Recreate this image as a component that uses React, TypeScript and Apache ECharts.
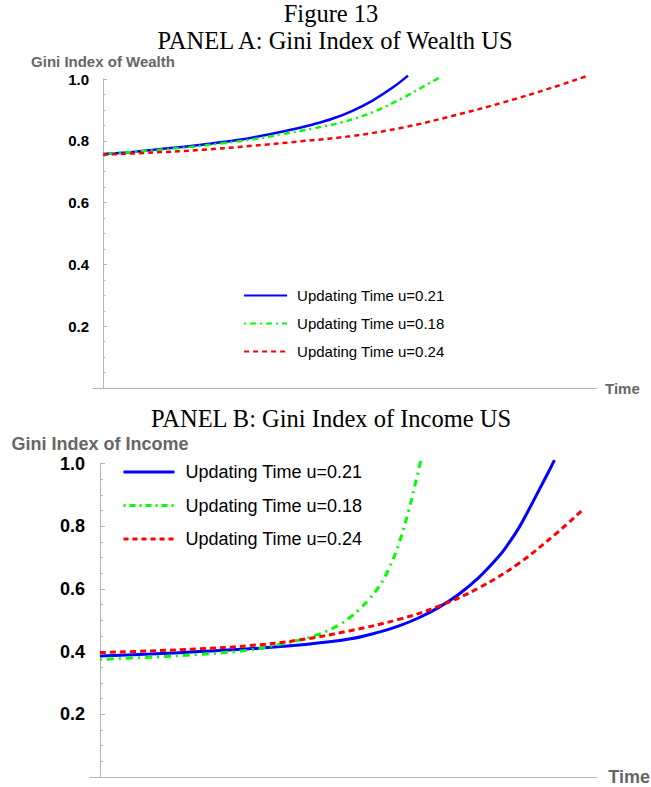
import React, { useEffect, useRef } from 'react';
import * as echarts from 'echarts';

const seriesNames = ['Updating Time u=0.21', 'Updating Time u=0.18', 'Updating Time u=0.24'];

// Panel A: Gini Index of Wealth US
const blueA_t = [0, 3, 6, 9, 12, 15, 18, 21, 23, 25, 27, 29, 30.5];
const blueA_v = [0.757, 0.764, 0.774, 0.784, 0.796, 0.811, 0.830, 0.853, 0.872, 0.898, 0.931, 0.973, 1.011];
const greenA_t = [0, 3, 6, 9, 12, 15, 18, 21, 24, 27, 30, 32, 33.7];
const greenA_v = [0.757, 0.764, 0.772, 0.781, 0.792, 0.805, 0.822, 0.840, 0.861, 0.893, 0.939, 0.975, 1.005];
const redA_t = [0, 5, 10, 15, 20, 25, 30, 35, 40, 45, 48.5];
const redA_v = [0.755, 0.762, 0.771, 0.784, 0.799, 0.816, 0.843, 0.881, 0.924, 0.973, 1.011];

// Panel B: Gini Index of Income US
const blueB_t = [0, 5, 10, 15, 20, 25, 28, 30, 32, 34, 36, 38, 40, 41, 42, 43, 44, 45, 45.6];
const blueB_v = [0.386, 0.392, 0.400, 0.409, 0.421, 0.440, 0.462, 0.482, 0.508, 0.541, 0.583, 0.636, 0.703, 0.745, 0.793, 0.851, 0.912, 0.973, 1.011];
const greenB_t = [0, 5, 10, 15, 18, 20, 22, 24, 25, 26, 27, 28, 29, 30, 31, 31.6, 32.2];
const greenB_v = [0.375, 0.382, 0.391, 0.405, 0.423, 0.437, 0.456, 0.485, 0.507, 0.534, 0.567, 0.608, 0.665, 0.745, 0.853, 0.930, 1.011];
const redB_t = [0, 5, 10, 15, 20, 25, 30, 34, 38, 42, 46, 48.6];
const redB_v = [0.397, 0.402, 0.409, 0.419, 0.437, 0.466, 0.503, 0.545, 0.603, 0.681, 0.783, 0.857];

const yTickStep = 0.2;

const SANS = '"Liberation Sans", Arial, sans-serif';
const SERIF = '"Liberation Serif", "Times New Roman", serif';
const AXIS_GRAY = '#b4b4b4';
const NAME_GRAY = '#666666';

const pairs = (t: number[], v: number[]) => t.map((x, i) => [x, v[i]]);

function yAxisFor(grid: number, name: string, fs: number, gap: number, margin: number, tickLen: number) {
  return {
    gridIndex: grid,
    type: 'value',
    min: 0,
    max: 1,
    interval: yTickStep,
    name,
    nameLocation: 'end',
    nameGap: gap,
    nameTextStyle: { color: NAME_GRAY, fontWeight: 'bold', fontSize: fs, fontFamily: SANS, align: 'center' },
    axisLine: { show: true, onZero: true, lineStyle: { color: AXIS_GRAY, width: 1 } },
    axisTick: { show: true, inside: true, length: tickLen, lineStyle: { color: AXIS_GRAY } },
    minorTick: { show: true, splitNumber: 4, length: tickLen * 0.6, lineStyle: { color: AXIS_GRAY } },
    splitLine: { show: false },
    axisLabel: {
      color: '#000',
      fontWeight: 'bold',
      fontSize: fs,
      fontFamily: SANS,
      margin,
      formatter: (v: number) => (v === 0 ? '' : v.toFixed(1)),
    },
  };
}

function xAxisFor(grid: number, max: number, fs: number, gap: number) {
  return {
    gridIndex: grid,
    type: 'value',
    min: -1,
    max,
    name: 'Time',
    nameLocation: 'end',
    nameGap: gap,
    nameTextStyle: { color: NAME_GRAY, fontWeight: 'bold', fontSize: fs, fontFamily: SANS },
    axisLine: { show: true, onZero: false, lineStyle: { color: AXIS_GRAY, width: 1 } },
    axisTick: { show: false },
    axisLabel: { show: false },
    splitLine: { show: false },
  };
}

function line(name: string, grid: number, data: number[][], color: string, width: number, type: any) {
  return {
    name,
    type: 'line',
    xAxisIndex: grid,
    yAxisIndex: grid,
    data,
    symbol: 'none',
    showSymbol: false,
    smooth: 0.4,
    clip: false,
    lineStyle: { color, width, type },
    itemStyle: { color },
  };
}

function legendFor(left: number, top: number, itemWidth: number, fs: number, gap: number, pad: number, lw: number) {
  return {
    data: seriesNames,
    orient: 'vertical',
    left,
    top,
    padding: 0,
    itemWidth,
    itemHeight: fs,
    itemGap: gap,
    selectedMode: false,
    textStyle: { color: '#000', fontSize: fs, fontFamily: SANS, padding: [0, 0, 0, pad] },
    itemStyle: { opacity: 0 },
    lineStyle: { width: lw },
  };
}

export default function App() {
  const ref = useRef<HTMLDivElement>(null);
  useEffect(() => {
    document.body.style.margin = '0';
    const chart = echarts.init(ref.current!, null, { renderer: 'svg' });
    const titleText = (text: string, x: number, y: number) => ({
      type: 'text',
      x,
      y,
      style: {
        text,
        font: `24.5px ${SERIF}`,
        fill: '#000',
        textAlign: 'center',
        textVerticalAlign: 'middle',
        align: 'center',
        verticalAlign: 'middle',
      },
    });
    chart.setOption({
      animation: false,
      backgroundColor: '#ffffff',
      graphic: [
        titleText('Figure 13', 331, 13),
        titleText('PANEL A: Gini Index of Wealth US', 335, 40),
        titleText('PANEL B: Gini Index of Income US', 331, 418),
      ],
      grid: [
        { left: 93, right: 54, top: 79, bottom: 399 },
        { left: 90, right: 53, top: 463.5, bottom: 10 },
      ],
      xAxis: [xAxisFor(0, 49.4, 15, 8), xAxisFor(1, 49.8, 18, 12)],
      yAxis: [
        yAxisFor(0, 'Gini Index of Wealth', 15, 10, 4, 4),
        yAxisFor(1, 'Gini Index of Income', 18, 11, 5, 5),
      ],
      legend: [
        legendFor(243, 288, 43, 15, 13, 5, 2.2),
        legendFor(122, 463, 51, 18, 15.5, 6, 3),
      ],
      series: [
        line(seriesNames[0], 0, pairs(blueA_t, blueA_v), '#0000ff', 2.5, 'solid'),
        line(seriesNames[1], 0, pairs(greenA_t, greenA_v), '#00ff00', 2.5, [2, 4, 6, 4]),
        line(seriesNames[2], 0, pairs(redA_t, redA_v), '#ff0000', 2.5, [5, 4]),
        line(seriesNames[0], 1, pairs(blueB_t, blueB_v), '#0000ff', 3, 'solid'),
        line(seriesNames[1], 1, pairs(greenB_t, greenB_v), '#00ff00', 3, [2, 5, 7, 5]),
        line(seriesNames[2], 1, pairs(redB_t, redB_v), '#ff0000', 3, [6, 4]),
      ],
    });
    return () => chart.dispose();
  }, []);
  return <div ref={ref} style={{ width: 651, height: 787 }} />;
}
